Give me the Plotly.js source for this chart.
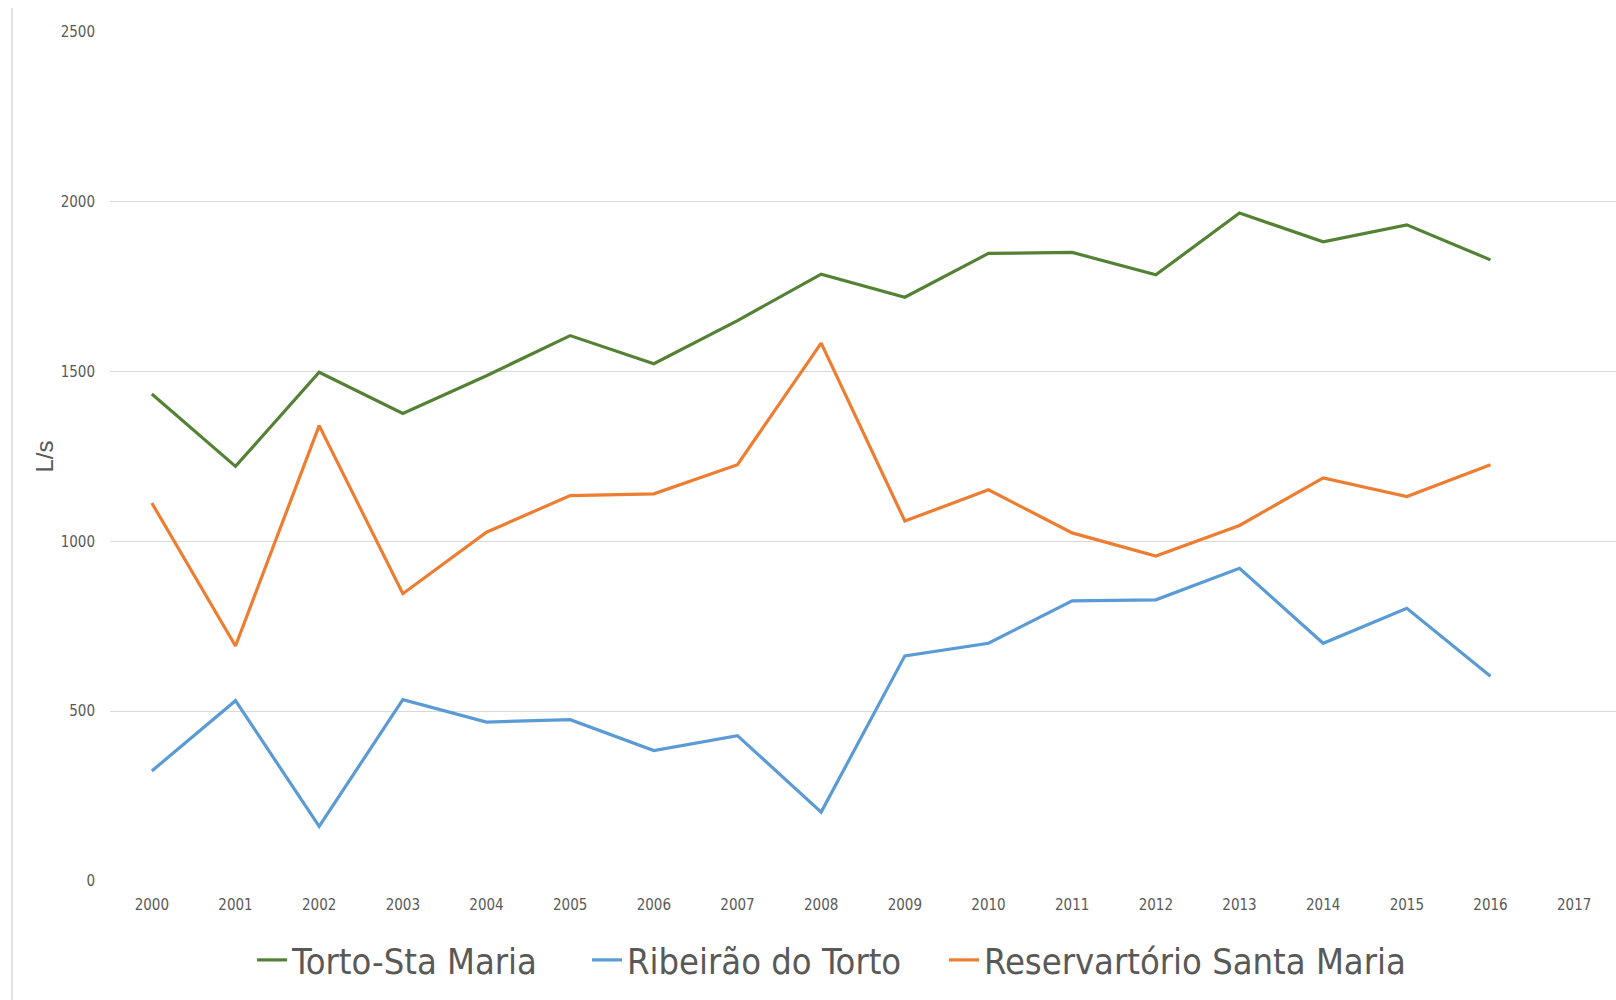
<!DOCTYPE html>
<html>
<head>
<meta charset="utf-8">
<script src="https://cdn.plot.ly/plotly-3.0.1.min.js"></script>
<style>
  html, body { margin: 0; padding: 0; background: #ffffff; }
  #chart { width: 1616px; height: 1000px; }
</style>
</head>
<body>
<div id="chart"></div>
<script>
// Categories (years) shown on the x axis
const years = ['2000','2001','2002','2003','2004','2005','2006','2007','2008',
               '2009','2010','2011','2012','2013','2014','2015','2016','2017'];

// Series values (L/s), 2000–2016
const tortoStaMaria = [1434, 1221, 1498, 1377, 1488, 1606, 1523, 1650, 1787,
                       1719, 1848, 1851, 1785, 1967, 1882, 1932, 1829];
const ribeiraoTorto = [324, 531, 161, 534, 468, 475, 384, 428, 203,
                       663, 700, 825, 828, 921, 700, 803, 603];
const reservSantaMaria = [1113, 692, 1341, 846, 1027, 1135, 1140, 1226, 1584,
                          1060, 1152, 1025, 957, 1047, 1187, 1132, 1226];

// Series names
const seriesNames = ['Torto-Sta Maria', 'Ribeirão do Torto', 'Reservartório Santa Maria'];
const seriesColors = ['#548235', '#5B9BD5', '#ED7D31'];

const dataYears = years.slice(0, tortoStaMaria.length);

const NARROW = '"Liberation Sans Narrow", "DejaVu Sans Condensed", "Arial Narrow", sans-serif';
const legendIds = ['legend', 'legend2', 'legend3'];

const traces = [tortoStaMaria, ribeiraoTorto, reservSantaMaria].map((vals, i) => ({
  type: 'scatter',
  mode: 'lines',
  x: dataYears,
  y: vals,
  name: seriesNames[i],
  legend: legendIds[i],
  line: { color: seriesColors[i], width: 3.2 },
  hoverinfo: 'x+y+name'
}));

const W = 1616, H = 1000;
const margin = { l: 110, r: 0, t: 32, b: 119, pad: 0 };
const plotW = W - margin.l - margin.r;
const plotH = H - margin.t - margin.b;

const layout = {
  width: W,
  height: H,
  margin: margin,
  paper_bgcolor: '#ffffff',
  plot_bgcolor: '#ffffff',
  showlegend: true,
  font: { family: NARROW, color: '#595959' },
  xaxis: {
    type: 'category',
    categoryorder: 'array',
    categoryarray: years,
    range: [-0.5, years.length - 0.5],
    showgrid: false,
    zeroline: false,
    showline: false,
    ticks: 'outside',
    ticklen: 10,
    tickcolor: 'rgba(0,0,0,0)',
    tickfont: { family: NARROW, size: 15, color: '#595959' },
    fixedrange: true
  },
  yaxis: {
    range: [0, 2500],
    dtick: 500,
    tick0: 0,
    showgrid: true,
    gridcolor: '#d9d9d9',
    gridwidth: 1,
    zeroline: false,
    showline: false,
    ticks: 'outside',
    ticklen: 11,
    tickcolor: 'rgba(0,0,0,0)',
    tickfont: { family: NARROW, size: 15, color: '#595959' },
    title: {
      text: 'L/s',
      font: { family: '"Liberation Sans", Arial, sans-serif', size: 24, color: '#595959' },
      standoff: 0
    },
    automargin: false,
    fixedrange: true
  },
  shapes: [{
    type: 'line',
    xref: 'paper',
    yref: 'paper',
    x0: (12 - margin.l) / plotW,
    x1: (12 - margin.l) / plotW,
    y0: -margin.b / plotH,
    y1: (H - margin.b - 8) / plotH,
    line: { color: '#d9d9d9', width: 1.5 },
    layer: 'below'
  }]
};

// one legend box per series, placed like the reference's legend row
const legendX = [252, 587, 944];
legendIds.forEach((id, i) => {
  layout[id] = {
    orientation: 'h',
    xref: 'container',
    yref: 'container',
    x: legendX[i] / W,
    xanchor: 'left',
    y: 1 - 960 / H,
    yanchor: 'middle',
    font: { family: NARROW, size: 36, color: '#595959' },
    itemwidth: 30,
    bgcolor: 'rgba(0,0,0,0)',
    borderwidth: 0
  };
});

Plotly.newPlot('chart', traces, layout, { displayModeBar: false, staticPlot: true });
</script>
</body>
</html>
